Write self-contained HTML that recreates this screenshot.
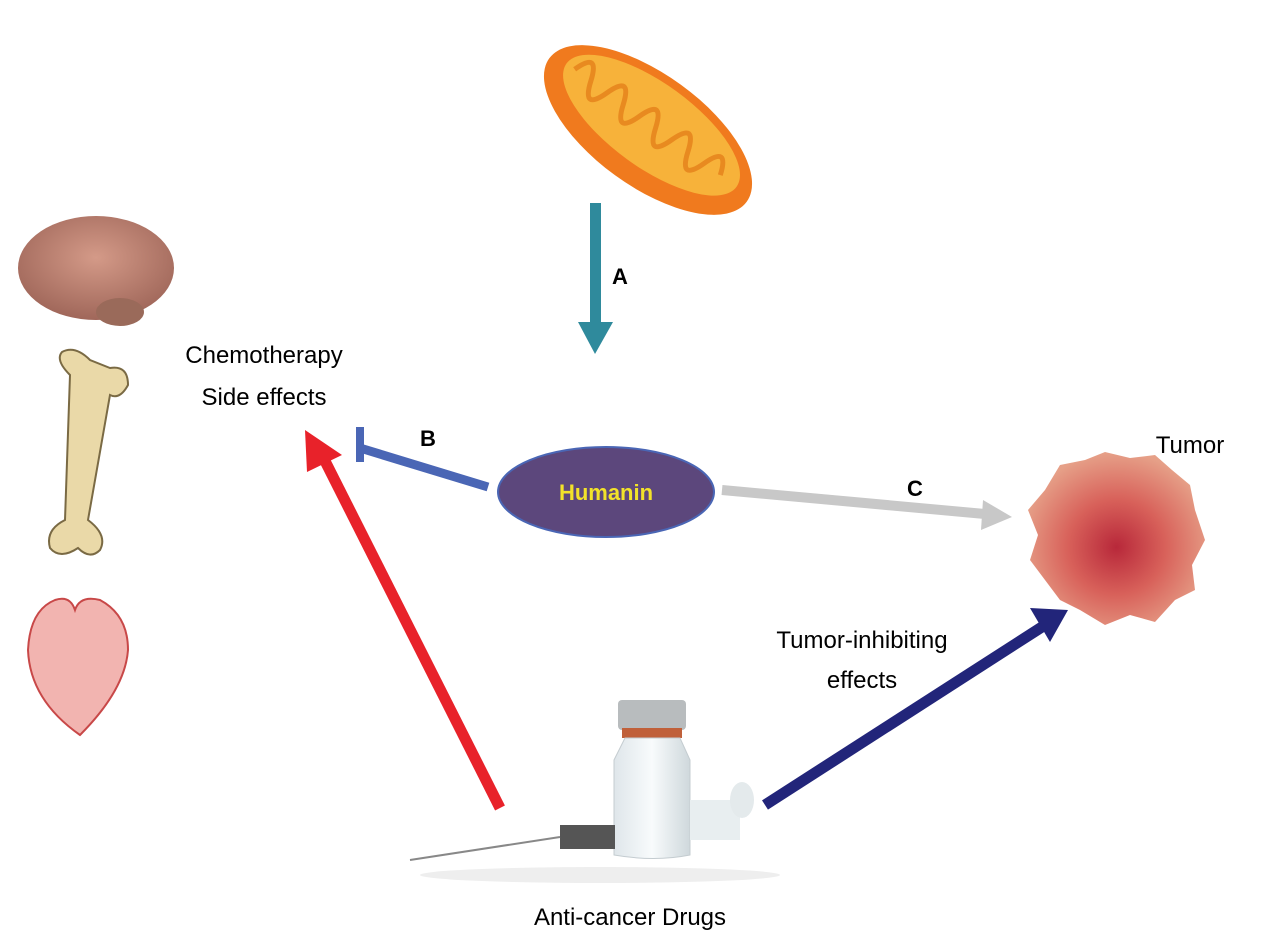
<!DOCTYPE html>
<html><head><meta charset="utf-8"><style>
html,body{margin:0;padding:0;background:#fff;}
svg{display:block;}
text{font-family:"Liberation Sans",sans-serif;}
</style></head><body>
<svg width="1280" height="933" viewBox="0 0 1280 933" xmlns="http://www.w3.org/2000/svg">
<defs>
<radialGradient id="tum" cx="0.5" cy="0.55" r="0.55">
<stop offset="0" stop-color="#b8283a"/><stop offset="0.5" stop-color="#d8615a"/><stop offset="1" stop-color="#e6a088"/>
</radialGradient>
<radialGradient id="brain" cx="0.5" cy="0.4" r="0.6">
<stop offset="0" stop-color="#d49a88"/><stop offset="1" stop-color="#a0675a"/>
</radialGradient>
<linearGradient id="vial" x1="0" x2="1"><stop offset="0" stop-color="#dfe6ea"/><stop offset="0.5" stop-color="#f8fbfc"/><stop offset="1" stop-color="#cfd8dc"/></linearGradient>
</defs>

<!-- mitochondrion -->
<g transform="translate(648,130) rotate(36)">
<ellipse cx="0" cy="0" rx="122" ry="56" fill="#f07a1e"/>
<ellipse cx="0" cy="-6" rx="105" ry="42" fill="#f7b23a"/>
<path d="M-95,-6 q10,-30 20,0 q10,30 20,0 q10,-30 20,0 q10,30 20,0 q10,-30 20,0 q10,30 20,0 q10,-30 20,0 q10,30 20,0 q10,-30 20,0" fill="none" stroke="#e88a20" stroke-width="5"/>
</g>

<!-- arrow A -->
<rect x="590" y="203" width="11" height="122" fill="#2f8a9c"/>
<polygon points="578,322 613,322 595,354" fill="#2f8a9c"/>
<text x="620" y="284" font-size="22" font-weight="bold" text-anchor="middle">A</text>

<!-- brain -->
<ellipse cx="96" cy="268" rx="78" ry="52" fill="url(#brain)"/>
<ellipse cx="120" cy="312" rx="24" ry="14" fill="#9a6a5a"/>
<!-- bone -->
<path d="M70,375 Q55,360 62,352 Q75,345 90,360 L110,368 Q128,365 128,385 Q120,400 110,395 L88,520 Q108,535 100,550 Q90,560 78,548 Q60,560 50,548 Q45,530 65,520 Z" fill="#ead9a8" stroke="#7a6a44" stroke-width="2"/>
<!-- heart -->
<path d="M55,600 Q30,610 28,650 Q30,700 80,735 Q125,690 128,650 Q128,615 100,600 Q80,595 75,610 Q70,595 55,600 Z" fill="#f2b4b0" stroke="#c84848" stroke-width="2"/>

<text x="264" y="363" font-size="24" text-anchor="middle">Chemotherapy</text>
<text x="264" y="405" font-size="24" text-anchor="middle">Side effects</text>

<!-- B inhibition -->
<line x1="488" y1="487" x2="360" y2="448" stroke="#4a66b5" stroke-width="9"/>
<line x1="360" y1="427" x2="360" y2="462" stroke="#4a66b5" stroke-width="8"/>
<text x="428" y="446" font-size="22" font-weight="bold" text-anchor="middle">B</text>

<!-- Humanin -->
<ellipse cx="606" cy="492" rx="108" ry="45" fill="#5c477c" stroke="#4a66b5" stroke-width="2"/>
<text x="606" y="500" font-size="22" font-weight="bold" fill="#f2e22a" text-anchor="middle">Humanin</text>

<!-- C gray arrow -->
<line x1="722" y1="490" x2="985" y2="514" stroke="#c8c8c8" stroke-width="10"/>
<polygon points="983,500 1012,517 981,530" fill="#c8c8c8"/>
<text x="915" y="496" font-size="22" font-weight="bold" text-anchor="middle">C</text>

<!-- tumor -->
<path d="M1060,465 L1085,460 L1105,452 L1130,458 L1155,455 L1172,470 L1190,485 L1195,510 L1205,540 L1192,565 L1195,590 L1175,600 L1155,622 L1130,615 L1105,625 L1080,610 L1060,600 L1045,580 L1030,560 L1038,535 L1028,510 L1045,490 Z" fill="url(#tum)"/>
<text x="1190" y="453" font-size="24" text-anchor="middle">Tumor</text>

<!-- dark blue arrow -->
<line x1="765" y1="805" x2="1045" y2="625" stroke="#22257a" stroke-width="11"/>
<polygon points="1030,608 1068,610 1050,642" fill="#22257a"/>
<text x="862" y="648" font-size="24" text-anchor="middle">Tumor-inhibiting</text>
<text x="862" y="688" font-size="24" text-anchor="middle">effects</text>

<!-- red arrow -->
<line x1="500" y1="808" x2="322" y2="455" stroke="#e8222a" stroke-width="11"/>
<polygon points="305,430 342,455 307,472" fill="#e8222a"/>

<!-- vial & syringe -->
<rect x="618" y="700" width="68" height="30" rx="4" fill="#b8bcbe"/>
<rect x="622" y="728" width="60" height="10" fill="#c0603a"/>
<path d="M625,738 L680,738 L690,760 L690,855 Q655,862 614,855 L614,760 Z" fill="url(#vial)" stroke="#c4ccd0"/>
<rect x="690" y="800" width="50" height="40" fill="#e8eef0"/>
<ellipse cx="742" cy="800" rx="12" ry="18" fill="#e4eaec"/>
<rect x="560" y="825" width="55" height="24" fill="#555"/>
<line x1="410" y1="860" x2="560" y2="837" stroke="#888" stroke-width="2"/>
<ellipse cx="600" cy="875" rx="180" ry="8" fill="#eee"/>

<text x="630" y="925" font-size="24" text-anchor="middle">Anti-cancer Drugs</text>
</svg>
</body></html>
